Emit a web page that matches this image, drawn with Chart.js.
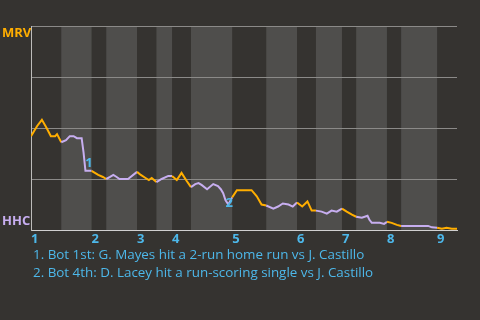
<!DOCTYPE html>
<html>
<head>
<meta charset="utf-8">
<script src="https://cdn.jsdelivr.net/npm/chart.js@4.4.1/dist/chart.umd.min.js"></script>
<style>
  body { margin: 0; background: #353330; }
  #wrap { position: relative; width: 480px; height: 320px; overflow: hidden; }
  #wpChart { position: absolute; left: 0; top: 0; }
  #notes {
    position: absolute; left: 33px; top: 245px;
    font: 13.4px "Open Sans", sans-serif; line-height: 18px;
    color: #4db8ea; white-space: nowrap;
  }
</style>
</head>
<body>
<div id="wrap">
  <canvas id="wpChart" width="480" height="320"></canvas>
  <div id="notes">
    <div>1. Bot 1st: G. Mayes hit a 2-run home run vs J. Castillo</div>
    <div>2. Bot 4th: D. Lacey hit a run-scoring single vs J. Castillo</div>
  </div>
</div>
<script>
// game progress in plays, half-inning starts (top, bottom, top, ...)
const halfStarts = [0, 6.4, 12.8, 15.9, 22.4, 26.5, 29.8, 33.8, 42.5, 49.7, 56.2, 60.2, 65.7, 68.7, 75.2, 78.2, 85.8];
const gameEnd = 90;
const innings = ["1", "2", "3", "4", "5", "6", "7", "8", "9"];
const teams = ["MRV", "HHC"];

// MRV win probability (%) after each play
const playX = [0, 1.3, 2.3, 3.3, 4.2, 5.1, 5.5, 6.4, 7.4, 8.2,
  9.0, 9.7, 10.7, 11.1, 11.5, 12.8, 14.2, 15.2, 15.9, 16.7,
  17.4, 18.1, 18.7, 20.5, 22.4, 23.2, 24.2, 24.9, 25.5, 26.5,
  27.6, 29.0, 29.8, 30.8, 31.8, 32.9, 33.8, 34.7, 35.4, 36.1,
  37.2, 38.5, 39.5, 40.1, 40.6, 41.1, 41.7, 42.5, 43.5, 46.6,
  47.7, 48.7, 49.7, 51.2, 52.2, 53.2, 54.4, 55.3, 56.2, 57.3,
  58.4, 59.3, 60.2, 61.4, 62.5, 63.5, 64.6, 65.7, 66.7, 67.8,
  68.7, 69.9, 71.1, 71.5, 72.0, 73.7, 74.6, 75.2, 76.2, 77.3,
  78.2, 83.9, 84.7, 85.8, 86.8, 87.8, 88.9, 90];
const wpMRV = [46, 51, 54, 50, 46, 46, 47, 43, 44, 46,
  46, 45, 45, 38, 29, 29, 27, 26, 25, 26,
  27, 26, 25, 25, 28.5, 27, 25.5, 24.5, 25.5, 23.5,
  25, 26.5, 26.5, 24.5, 28, 24, 21, 22.5, 23, 22,
  20, 22.5, 21.5, 20, 18, 14.5, 12.5, 16, 19.5, 19.5,
  16.5, 12.5, 12, 10.5, 11.5, 13, 12.5, 11.5, 13.5, 11.5,
  14, 9.5, 9.5, 9, 8, 9.5, 9, 10.5, 9, 7.5,
  6.5, 6, 7, 5, 3.5, 3.5, 3, 4, 3.5, 2.5,
  2, 2, 1.3, 1.1, 0.6, 1.1, 0.6, 0.6];

// key plays
const noteLabels = ["1", "2"];
const noteX = [12.25, 41.9];
const noteWp = [32.8, 13.2];

const orange = "#ffae00";
const purple = "#c7aef0";
const blue = "#4db8ea";
const bandColor = "#4f4e4c";

const inningStarts = halfStarts.filter((v, i) => i % 2 === 0);

function isBottom(x) {
  let h = 0;
  for (let i = 0; i < halfStarts.length; i++) {
    if (x >= halfStarts[i] - 0.001) h = i;
  }
  return h % 2 === 1;
}

const bands = {
  id: "bands",
  beforeDraw(chart) {
    const { ctx, chartArea, scales } = chart;
    ctx.save();
    ctx.fillStyle = bandColor;
    for (let i = 1; i < halfStarts.length; i += 2) {
      const x0 = scales.x.getPixelForValue(halfStarts[i]);
      const x1 = scales.x.getPixelForValue(i + 1 < halfStarts.length ? halfStarts[i + 1] : gameEnd);
      ctx.fillRect(x0, chartArea.top, x1 - x0, chartArea.bottom - chartArea.top);
    }
    ctx.restore();
  }
};

const labels = {
  id: "labels",
  afterDraw(chart) {
    const { ctx, scales } = chart;
    ctx.save();
    ctx.font = 'bold 13px "Open Sans", sans-serif';
    ctx.textBaseline = "middle";
    ctx.textAlign = "left";
    ctx.fillStyle = orange;
    ctx.fillText(teams[0], 2, scales.y.getPixelForValue(100) + 7);
    ctx.fillStyle = purple;
    ctx.fillText(teams[1], 2, scales.y.getPixelForValue(0) - 9);
    ctx.textAlign = "center";
    ctx.fillStyle = blue;
    noteLabels.forEach((t, i) => {
      ctx.fillText(t, scales.x.getPixelForValue(noteX[i]), scales.y.getPixelForValue(noteWp[i]));
    });
    ctx.restore();
  }
};

new Chart(document.getElementById("wpChart"), {
  type: "line",
  data: {
    datasets: [{
      data: playX.map((x, i) => ({ x: x, y: wpMRV[i] })),
      borderWidth: 2,
      pointRadius: 0,
      tension: 0,
      borderColor: orange,
      segment: {
        borderColor: ctx => isBottom(ctx.p0.parsed.x) ? purple : orange
      }
    }]
  },
  options: {
    responsive: false,
    animation: false,
    layout: { padding: { left: 31, right: 23, top: 26, bottom: 70 } },
    plugins: { legend: { display: false }, tooltip: { enabled: false } },
    scales: {
      x: {
        type: "linear",
        min: 0,
        max: gameEnd,
        grid: { display: false, drawTicks: false, tickLength: 0 },
        border: { display: true, color: "#d0d0d0", width: 1 },
        afterBuildTicks: s => { s.ticks = inningStarts.map(v => ({ value: v })); },
        afterFit: s => { s.height = 20; },
        ticks: {
          autoSkip: false,
          maxRotation: 0,
          align: "start",
          padding: 1,
          color: blue,
          font: { family: "Open Sans", size: 13, weight: "bold" },
          callback: (v, i) => innings[i]
        }
      },
      y: {
        min: 0,
        max: 100,
        afterFit: s => { s.width = 0; },
        ticks: { display: false, stepSize: 25 },
        grid: { color: "#8b8a88", lineWidth: 1, drawTicks: false },
        border: { display: true, color: "#bdbcba", width: 1 }
      }
    }
  },
  plugins: [bands, labels]
});
</script>
</body>
</html>
